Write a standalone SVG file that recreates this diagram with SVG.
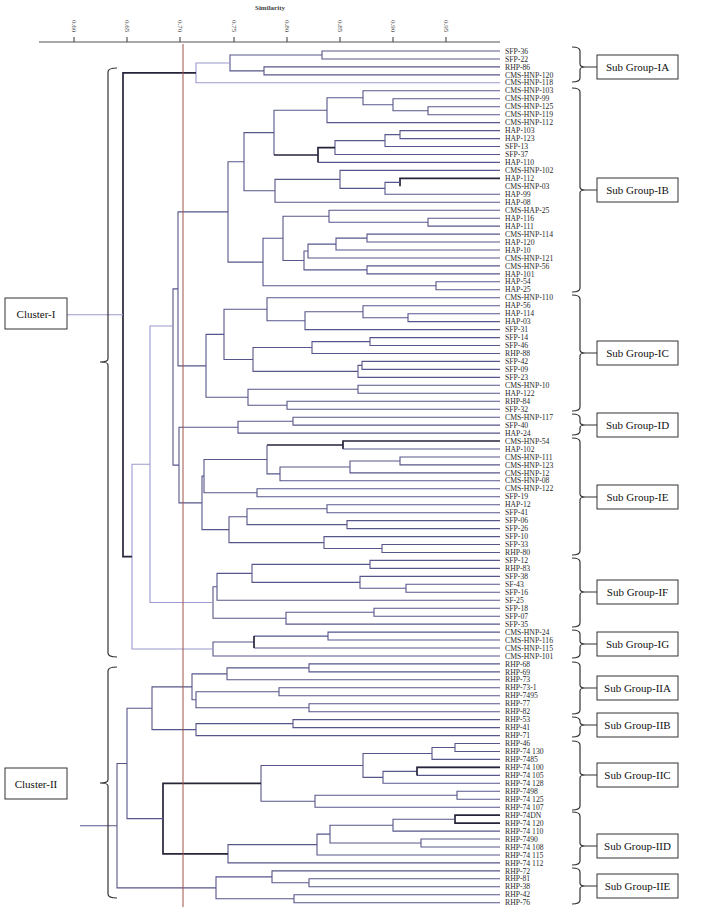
<svg xmlns="http://www.w3.org/2000/svg" width="708" height="917" viewBox="0 0 708 917">
<style>
.t{font-family:"Liberation Serif",serif;font-size:7.7px;fill:#2a2a2a}
.l{fill:none;stroke:#56568a;stroke-width:1.1}
.k{fill:none;stroke:#25253a;stroke-width:1.7}
.lb{fill:none;stroke:#9a9ad0;stroke-width:1.1}
.br{fill:none;stroke:#333;stroke-width:1.2}
.box{fill:#fff;stroke:#333;stroke-width:1}
.bt{font-family:"Liberation Serif",serif;font-size:11px;fill:#111;text-anchor:middle}
.ax{font-family:"Liberation Serif",serif;font-size:7px;fill:#444}
</style>
<rect width="708" height="917" fill="#fff"/>
<g id="axis">
<text class="ax" x="270" y="10" text-anchor="middle" font-weight="bold">Similarity</text>
<path d="M39 42 H500 M74 37 V42 M127 37 V42 M180 37 V42 M234 37 V42 M287 37 V42 M340 37 V42 M393 37 V42 M446 37 V42" stroke="#555" stroke-width="1.2" fill="none"/>
<g class="ax">
<text transform="translate(71.5 20) rotate(90)">0.60</text>
<text transform="translate(124.5 20) rotate(90)">0.65</text>
<text transform="translate(177.5 20) rotate(90)">0.70</text>
<text transform="translate(231.5 20) rotate(90)">0.75</text>
<text transform="translate(284.5 20) rotate(90)">0.80</text>
<text transform="translate(337.5 20) rotate(90)">0.85</text>
<text transform="translate(390.5 20) rotate(90)">0.90</text>
<text transform="translate(443.5 20) rotate(90)">0.95</text>
</g>
</g>
<g id="connectors">
<path class="l" d="M500 51 H322 V59 H500 M500 66.9 H264 V74.9 H500 M322 55 H230 V70.9 H264"/>
<path class="lb" d="M230 63 H196 V82.8 H500"/>
<path class="l" d="M500 106.7 H428 V114.7 H500 M500 98.8 H393 V110.7 H428 M500 90.8 H363 V104.8 H393 M363 97.8 H327 V122.6 H500 M500 130.6 H400 V138.6 H500 M400 134.6 H385 V146.5 H500 M385 140.6 H335 V154.5 H500 M327 110.2 H274 V155"/>
<path class="k" d="M335 147.6 H318 V162.4 M274 155 H318 M500 178.4 H400 V186.3"/>
<path class="l" d="M318 162.4 H500 M400 182.4 H385 V194.3 H500 M500 170.4 H340 V188.4 H385 M340 179.4 H275 V202.2 H500 M274 132.6 H244 V190.8 H275"/>
<path class="l" d="M500 218.2 H428 V226.1 H500 M500 210.2 H329 V222.2 H428 M500 234.1 H367 V242 H500 M367 238.1 H336 V250 H500 M336 244.1 H308 V258 H500 M500 265.9 H367 V273.9 H500 M308 251 H304 V269.9 H367 M329 216.2 H283 V260.5 H304 M500 281.8 H436 V289.8 H500 M283 238.3 H263 V285.8 H436 M244 161.7 H228 V262.1 H263"/>
<path class="l" d="M500 313.7 H408 V321.6 H500 M500 305.7 H363 V317.7 H408 M363 311.7 H305 V329.6 H500 M500 297.8 H267 V320.7 H305 M500 337.6 H370 V345.5 H500 M370 341.6 H312 V353.5 H500 M500 361.4 H362 V369.4 H500 M362 365.4 H358 V377.4 H500 M312 347.5 H253 V371.4 H358 M267 309.3 H224 V359.5 H253 M500 385.3 H358 V393.3 H500 M500 401.2 H287 V409.2 H500 M358 389.3 H248 V405.2 H287 M224 334.4 H206 V397.3 H248 M228 211.9 H178 V365.9 H206"/>
<path class="l" d="M500 417.2 H293 V425.1 H500 M293 421.2 H238 V433.1 H500"/>
<path class="k" d="M500 441 H343 V449 M267 445 H343"/>
<path class="l" d="M343 449 H500 M500 457 H400 V464.9 H500 M400 461 H350 V472.9 H500 M350 467 H280 V480.8 H500 M267 445 V473.9 H280 M500 488.8 H257 V496.8 H500 M267 459.5 H204 V492.8 H257 M500 504.7 H327 V512.7 H500 M500 520.6 H347 V528.6 H500 M327 508.7 H247 V524.6 H347 M500 544.5 H382 V552.5 H500 M500 536.6 H324 V548.5 H382 M247 516.7 H229 V542.6 H324 M204 476.1 H202 V529.6 H229 M238 427.2 H179 V502.9 H202 M178 288.9 H173 V465.1 H179"/>
<path class="l" d="M500 560.4 H370 V568.4 H500 M500 584.3 H406 V592.3 H500 M500 576.4 H360 V588.3 H406 M370 564.4 H252 V582.4 H360 M252 573.4 H217 V600.2 H500 M500 608.2 H374 V616.2 H500 M374 612.2 H286 V624.1 H500 M217 586.8 H213 V618.2 H286"/>
<path class="lb" d="M173 326 H150 V602.5 H213"/>
<path class="l" d="M500 632.1 H328 V640 H500 M328 636.1 H254 M254 648 H500 M254 642 H213 V656 H500"/>
<path class="k" d="M254 636.1 V648"/>
<path class="lb" d="M150 464.3 H132 V649 H213"/>
<path class="k" d="M196 72.9 H123 V556.7 H132"/>
<path class="lb" d="M123 314.8 H67"/>
<path class="l" d="M500 663.9 H309 V671.9 H500 M309 667.9 H227 V679.8 H500 M500 687.8 H279 V695.8 H500 M500 703.7 H309 V711.7 H500 M279 691.8 H196 V707.7 H309 M227 673.9 H192 V699.8 H196 M500 719.6 H293 V727.6 H500 M293 723.6 H196 V735.6 H500 M192 686.9 H152 V729.6 H196"/>
<path class="l" d="M500 743.5 H455 V751.5 H500 M455 747.5 H432 V759.4 H500 M500 767.4 H417 M417 775.4 H500 M417 771.4 H383 V783.3 H500 M432 753.5 H363 V777.4 H383 M500 791.3 H457 V799.2 H500 M457 795.3 H315 V807.2 H500 M363 765.5 H261 V801.3 H315"/>
<path class="k" d="M500 767.4 H417 V775.4 M500 815.2 H455 V823.1 H500"/>
<path class="l" d="M455 819.2 H393 V831.1 H500 M500 839 H421 V847 H500 M393 825.2 H330 V843 H421 M330 834.1 H317 V855 H500 M317 844.6 H228 V862.9 H500"/>
<path class="k" d="M261 783.4 H163 V853.8 H228"/>
<path class="l" d="M152 708.3 H127 V818.6 H163 M500 878.8 H309 V886.8 H500 M500 870.9 H272 V882.8 H309 M500 894.8 H294 V902.7 H500 M272 876.9 H216 V898.8 H294 M127 763.5 H117 V887.9 H216 M117 825.7 H80"/>
<path d="M183 44 V907" stroke="#a0524a" stroke-width="1" fill="none"/>
</g>
<g id="leaf-labels" class="t">
<text x="505" y="53.6">SFP-36</text><text x="505" y="61.6">SFP-22</text><text x="505" y="69.5">RHP-86</text><text x="505" y="77.5">CMS-HNP-120</text><text x="505" y="85.4">CMS-HNP-118</text>
<text x="505" y="93.4">CMS-HNP-103</text><text x="505" y="101.4">CMS-HNP-99</text><text x="505" y="109.3">CMS-HNP-125</text><text x="505" y="117.3">CMS-HNP-119</text><text x="505" y="125.2">CMS-HNP-112</text>
<text x="505" y="133.2">HAP-103</text><text x="505" y="141.2">HAP-123</text><text x="505" y="149.1">SFP-13</text><text x="505" y="157.1">SFP-37</text><text x="505" y="165">HAP-110</text>
<text x="505" y="173">CMS-HNP-102</text><text x="505" y="181">HAP-112</text><text x="505" y="188.9">CMS-HNP-03</text><text x="505" y="196.9">HAP-99</text><text x="505" y="204.8">HAP-08</text>
<text x="505" y="212.8">CMS-HAP-25</text><text x="505" y="220.8">HAP-116</text><text x="505" y="228.7">HAP-111</text><text x="505" y="236.7">CMS-HNP-114</text><text x="505" y="244.6">HAP-120</text>
<text x="505" y="252.6">HAP-10</text><text x="505" y="260.6">CMS-HNP-121</text><text x="505" y="268.5">CMS-HNP-56</text><text x="505" y="276.5">HAP-101</text><text x="505" y="284.4">HAP-54</text>
<text x="505" y="292.4">HAP-25</text><text x="505" y="300.4">CMS-HNP-110</text><text x="505" y="308.3">HAP-56</text><text x="505" y="316.3">HAP-114</text><text x="505" y="324.2">HAP-03</text>
<text x="505" y="332.2">SFP-31</text><text x="505" y="340.2">SFP-14</text><text x="505" y="348.1">SFP-46</text><text x="505" y="356.1">RHP-88</text><text x="505" y="364">SFP-42</text>
<text x="505" y="372">SFP-09</text><text x="505" y="380">SFP-23</text><text x="505" y="387.9">CMS-HNP-10</text><text x="505" y="395.9">HAP-122</text><text x="505" y="403.8">RHP-84</text>
<text x="505" y="411.8">SFP-32</text><text x="505" y="419.8">CMS-HNP-117</text><text x="505" y="427.7">SFP-40</text><text x="505" y="435.7">HAP-24</text><text x="505" y="443.6">CMS-HNP-54</text>
<text x="505" y="451.6">HAP-102</text><text x="505" y="459.6">CMS-HNP-111</text><text x="505" y="467.5">CMS-HNP-123</text><text x="505" y="475.5">CMS-HNP-12</text><text x="505" y="483.4">CMS-HNP-08</text>
<text x="505" y="491.4">CMS-HNP-122</text><text x="505" y="499.4">SFP-19</text><text x="505" y="507.3">HAP-12</text><text x="505" y="515.3">SFP-41</text><text x="505" y="523.2">SFP-06</text>
<text x="505" y="531.2">SFP-26</text><text x="505" y="539.2">SFP-10</text><text x="505" y="547.1">SFP-33</text><text x="505" y="555.1">RHP-80</text><text x="505" y="563">SFP-12</text>
<text x="505" y="571">RHP-83</text><text x="505" y="579">SFP-38</text><text x="505" y="586.9">SF-43</text><text x="505" y="594.9">SFP-16</text><text x="505" y="602.8">SF-25</text>
<text x="505" y="610.8">SFP-18</text><text x="505" y="618.8">SFP-07</text><text x="505" y="626.7">SFP-35</text><text x="505" y="634.7">CMS-HNP-24</text><text x="505" y="642.6">CMS-HNP-116</text>
<text x="505" y="650.6">CMS-HNP-115</text><text x="505" y="658.6">CMS-HNP-101</text><text x="505" y="666.5">RHP-68</text><text x="505" y="674.5">RHP-69</text><text x="505" y="682.4">RHP-73</text>
<text x="505" y="690.4">RHP-73-1</text><text x="505" y="698.4">RHP-7495</text><text x="505" y="706.3">RHP-77</text><text x="505" y="714.3">RHP-82</text><text x="505" y="722.2">RHP-53</text>
<text x="505" y="730.2">RHP-41</text><text x="505" y="738.2">RHP-71</text><text x="505" y="746.1">RHP-46</text><text x="505" y="754.1">RHP-74 130</text><text x="505" y="762">RHP-7485</text>
<text x="505" y="770">RHP-74 100</text><text x="505" y="778">RHP-74 105</text><text x="505" y="785.9">RHP-74 128</text><text x="505" y="793.9">RHP-7498</text><text x="505" y="801.8">RHP-74 125</text>
<text x="505" y="809.8">RHP-74 107</text><text x="505" y="817.8">RHP-74DN</text><text x="505" y="825.7">RHP-74 120</text><text x="505" y="833.7">RHP-74 110</text><text x="505" y="841.6">RHP-7490</text>
<text x="505" y="849.6">RHP-74 108</text><text x="505" y="857.6">RHP-74 115</text><text x="505" y="865.5">RHP-74 112</text><text x="505" y="873.5">RHP-72</text><text x="505" y="881.4">RHP-81</text>
<text x="505" y="889.4">RHP-38</text><text x="505" y="897.4">RHP-42</text><text x="505" y="905.3">RHP-76</text>
</g>
<g id="cluster-I">
<path class="br" d="M117 68 Q108 68 108 72 V359 Q108 362 100 362 Q108 362 108 365 V653 Q108 657 117 657"/>
<rect class="box" x="5" y="298" width="62" height="31"/>
<text class="bt" x="36" y="317.5">Cluster-I</text>
</g>
<g id="cluster-II">
<path class="br" d="M117 667 Q108 667 108 671 V780 Q108 783 100 783 Q108 783 108 786 V894 Q108 898 117 898"/>
<rect class="box" x="5" y="768" width="62" height="31"/>
<text class="bt" x="36" y="787.5">Cluster-II</text>
</g>
<g id="sg-IA"><path class="br" d="M572 47 Q580 47 580 51 V64 Q580 67 585 67 Q580 67 580 70 V78 Q580 82 572 82 M585 67 H597"/><rect class="box" x="597" y="55" width="81" height="24"/><text class="bt" x="637.5" y="71">Sub Group-IA</text></g>
<g id="sg-IB"><path class="br" d="M572 88 Q580 88 580 92 V187 Q580 190 585 190 Q580 190 580 193 V288 Q580 292 572 292 M585 190 H597"/><rect class="box" x="597" y="178" width="81" height="24"/><text class="bt" x="637.5" y="194">Sub Group-IB</text></g>
<g id="sg-IC"><path class="br" d="M572 295 Q580 295 580 299 V350 Q580 353 585 353 Q580 353 580 356 V407 Q580 411 572 411 M585 353 H597"/><rect class="box" x="597" y="341" width="81" height="24"/><text class="bt" x="637.5" y="357">Sub Group-IC</text></g>
<g id="sg-ID"><path class="br" d="M572 414 Q580 414 580 418 V422 Q580 425 585 425 Q580 425 580 428 V431 Q580 435 572 435 M585 425 H597"/><rect class="box" x="597" y="413" width="81" height="24"/><text class="bt" x="637.5" y="429">Sub Group-ID</text></g>
<g id="sg-IE"><path class="br" d="M572 438 Q580 438 580 442 V494 Q580 497 585 497 Q580 497 580 500 V551 Q580 555 572 555 M585 497 H597"/><rect class="box" x="597" y="485" width="81" height="24"/><text class="bt" x="637.5" y="501">Sub Group-IE</text></g>
<g id="sg-IF"><path class="br" d="M572 558 Q580 558 580 562 V589 Q580 592 585 592 Q580 592 580 595 V623 Q580 627 572 627 M585 592 H597"/><rect class="box" x="597" y="580" width="81" height="24"/><text class="bt" x="637.5" y="596">Sub Group-IF</text></g>
<g id="sg-IG"><path class="br" d="M572 630 Q580 630 580 634 V641 Q580 644 585 644 Q580 644 580 647 V654 Q580 658 572 658 M585 644 H597"/><rect class="box" x="597" y="632" width="81" height="24"/><text class="bt" x="637.5" y="648">Sub Group-IG</text></g>
<g id="sg-IIA"><path class="br" d="M572 662 Q580 662 580 666 V685 Q580 688 585 688 Q580 688 580 691 V710 Q580 714 572 714 M585 688 H597"/><rect class="box" x="597" y="676" width="81" height="24"/><text class="bt" x="637.5" y="692">Sub Group-IIA</text></g>
<g id="sg-IIB"><path class="br" d="M572 717 Q580 717 580 721 V722 Q580 725 585 725 Q580 725 580 728 V733 Q580 737 572 737 M585 725 H597"/><rect class="box" x="597" y="713" width="81" height="24"/><text class="bt" x="637.5" y="729">Sub Group-IIB</text></g>
<g id="sg-IIC"><path class="br" d="M572 741 Q580 741 580 745 V772 Q580 775 585 775 Q580 775 580 778 V806 Q580 810 572 810 M585 775 H597"/><rect class="box" x="597" y="763" width="81" height="24"/><text class="bt" x="637.5" y="779">Sub Group-IIC</text></g>
<g id="sg-IID"><path class="br" d="M572 812 Q580 812 580 816 V843 Q580 846 585 846 Q580 846 580 849 V861 Q580 865 572 865 M585 846 H597"/><rect class="box" x="597" y="834" width="81" height="24"/><text class="bt" x="637.5" y="850">Sub Group-IID</text></g>
<g id="sg-IIE"><path class="br" d="M572 868 Q580 868 580 872 V883 Q580 886 585 886 Q580 886 580 889 V900 Q580 904 572 904 M585 886 H597"/><rect class="box" x="597" y="874" width="81" height="24"/><text class="bt" x="637.5" y="890">Sub Group-IIE</text></g>
</svg>
